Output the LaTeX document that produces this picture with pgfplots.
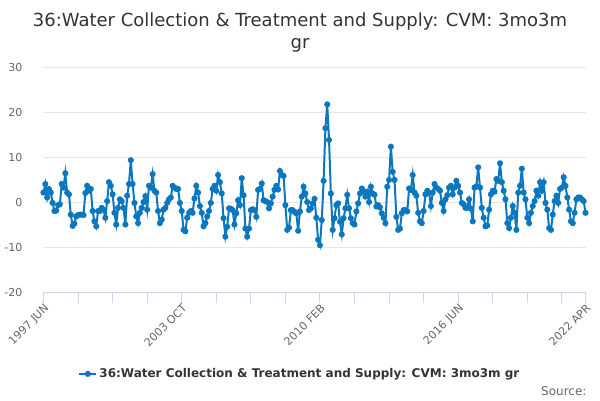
\documentclass[border=0pt]{standalone}
\usepackage{fontspec}
\setmainfont{DejaVu Sans}
\usepackage{pgfplots}
\pgfplotsset{compat=1.18}
\usepackage{pgfplotstable}
\definecolor{lineblue}{HTML}{0A77BF}
\definecolor{gridc}{HTML}{E6E6E6}
\definecolor{axisc}{HTML}{CCD6EB}
\definecolor{labc}{HTML}{666666}
\definecolor{titc}{HTML}{333333}
\pgfplotstableread{
i v
0 2.1
1 4.0
2 1.0
3 2.9
4 2.1
5 -0.2
6 -2.0
7 -1.9
8 -0.7
9 -0.5
10 4.0
11 3.2
12 6.4
13 2.1
14 1.7
15 -2.8
16 -5.3
17 -4.8
18 -3.2
19 -2.9
20 -2.8
21 -2.8
22 -2.9
23 2.0
24 3.6
25 2.5
26 2.9
27 -2.0
28 -4.3
29 -5.4
30 -2.0
31 -2.0
32 -1.3
33 -1.7
34 -3.5
35 0.2
36 4.4
37 3.6
38 1.7
39 -2.4
40 -5.0
41 -1.3
42 0.6
43 0.2
44 -1.3
45 -5.0
46 1.4
47 4.0
48 9.3
49 4.0
50 -0.2
51 -3.2
52 -4.7
53 -2.4
54 -1.3
55 0.0
56 1.3
57 -1.7
58 3.6
59 3.2
60 6.2
61 2.5
62 2.1
63 -2.0
64 -4.7
65 -3.9
66 -1.7
67 -1.3
68 -0.2
69 0.6
70 1.0
71 3.6
72 3.2
73 2.9
74 2.9
75 -0.2
76 -2.0
77 -6.2
78 -6.5
79 -3.5
80 -2.4
81 -2.0
82 -2.4
83 0.8
84 3.6
85 2.1
86 -0.9
87 -2.4
88 -5.4
89 -4.7
90 -3.2
91 -2.0
92 -0.2
93 2.9
94 3.6
95 2.5
96 6.0
97 4.4
98 1.9
99 -3.6
100 -7.7
101 -5.5
102 -1.4
103 -1.5
104 -1.8
105 -5.0
106 -2.5
107 0.4
108 -0.7
109 5.3
110 1.5
111 -5.9
112 -7.7
113 -5.9
114 -1.8
115 -1.6
116 -1.8
117 -3.3
118 2.7
119 2.9
120 4.1
121 0.4
122 0.2
123 0.0
124 -1.4
125 -0.3
126 1.2
127 2.7
128 3.6
129 2.8
130 6.9
131 6.0
132 5.8
133 -0.7
134 -6.2
135 -5.7
136 -1.8
137 -1.8
138 -2.2
139 -2.5
140 -6.4
141 -2.1
142 1.2
143 3.4
144 1.9
145 0.0
146 -1.8
147 -1.4
148 -0.3
149 0.7
150 -3.5
151 -8.4
152 -9.6
153 -4.0
154 4.7
155 16.4
156 21.7
157 13.8
158 1.9
159 -6.2
160 -3.6
161 -0.7
162 -0.3
163 -4.4
164 -7.2
165 -3.6
166 -1.4
167 1.6
168 -1.4
169 -3.6
170 -4.7
171 -5.0
172 -2.1
173 -0.3
174 1.9
175 3.0
176 2.3
177 1.2
178 2.3
179 0.0
180 3.4
181 1.9
182 1.6
183 -1.0
184 -0.7
185 -1.2
186 -2.5
187 -3.5
188 -4.7
189 3.4
190 4.9
191 12.3
192 6.7
193 4.9
194 -3.3
195 -6.2
196 -5.9
197 -2.5
198 -1.8
199 -1.8
200 -2.1
201 3.0
202 2.7
203 6.0
204 2.1
205 1.4
206 -2.4
207 -4.3
208 -4.7
209 -2.0
210 1.7
211 2.5
212 2.0
213 -0.9
214 2.1
215 4.0
216 3.2
217 2.9
218 2.5
219 -0.2
220 -2.0
221 0.6
222 1.5
223 3.2
224 3.6
225 1.7
226 3.2
227 4.7
228 3.6
229 2.1
230 -0.2
231 -0.5
232 -1.3
233 -1.3
234 0.6
235 -1.5
236 -4.3
237 3.2
238 3.5
239 7.7
240 3.2
241 -1.3
242 -3.5
243 -5.4
244 -5.2
245 -1.7
246 1.7
247 2.5
248 2.3
249 5.1
250 4.7
251 8.6
252 4.4
253 2.5
254 0.6
255 -4.7
256 -5.8
257 -3.5
258 -0.9
259 -2.4
260 -6.2
261 2.1
262 3.6
263 7.4
264 2.1
265 0.6
266 -3.5
267 -4.7
268 -2.4
269 -0.9
270 0.2
271 2.5
272 1.4
273 4.4
274 2.5
275 4.4
276 -0.2
277 -1.7
278 -5.8
279 -6.2
280 -2.8
281 0.2
282 1.4
283 -0.2
284 2.9
285 3.2
286 5.5
287 3.6
288 1.0
289 -1.7
290 -4.3
291 -4.7
292 -2.4
293 0.6
294 1.0
295 1.0
296 0.6
297 0.2
298 -2.4
}\datatable
\begin{document}
\begin{tikzpicture}
\path[use as bounding box] (0pt,0pt) rectangle (600pt,400pt);
\begin{axis}[
  at={(43.5pt,108pt)}, anchor=south west,
  scale only axis, width=542pt, height=225pt,
  xmin=0, xmax=298, ymin=-20, ymax=30,
  clip=false,
  axis x line*=bottom, axis y line*=left,
  x axis line style={-, draw=axisc, line width=1pt},
  y axis line style={draw=none},
  xtick={0,76,152,228,298},
  xticklabels={1997 JUN,2003 OCT,2010 FEB,2016 JUN,2022 APR},
  minor xtick={19,38,57,95,114,133,171,190,209,247,266,285},
  xtick style={draw=axisc, line width=1pt},
  minor x tick style={draw=axisc, line width=1pt},
  tick align=outside, major tick length=11pt, minor tick length=11pt,
  ytick={-20,-10,0,10,20,30},
  yticklabels={-20,-10,0,10,20,30},
  ytick style={draw=none},
  ymajorgrids, grid style={draw=gridc, line width=1pt},
  x tick label style={rotate=45, anchor=north east, inner sep=0pt, xshift=0pt, yshift=0pt, font=\fontsize{11}{13}\selectfont, text=labc},
  y tick label style={anchor=east, inner sep=0pt, xshift=-10pt, font=\fontsize{11}{13}\selectfont, text=labc},
  legend style={at={(0.473,-0.364)}, anchor=center, draw=none, fill=none, font=\bfseries\fontsize{12}{14}\selectfont, text=titc, inner sep=0pt},
  legend cell align=left,
]
\addplot[color=lineblue, line width=2pt, mark=*, mark size=2pt, mark options={solid, draw=none, fill=lineblue}] table[x=i,y=v]{\datatable};
\addlegendentry{36:Water Collection \& Treatment and Supply: CVM: 3mo3m gr}
\end{axis}
\node[anchor=base, font=\fontsize{18}{22}\selectfont, text=titc] at (300pt,373pt) {36:Water Collection \& Treatment and Supply: CVM: 3mo3m};
\node[anchor=base, font=\fontsize{18}{22}\selectfont, text=titc] at (300pt,352pt) {gr};
\node[anchor=base east, font=\fontsize{12}{14}\selectfont, text=labc] at (590pt,5pt) {Source:};
\end{tikzpicture}
\end{document}
